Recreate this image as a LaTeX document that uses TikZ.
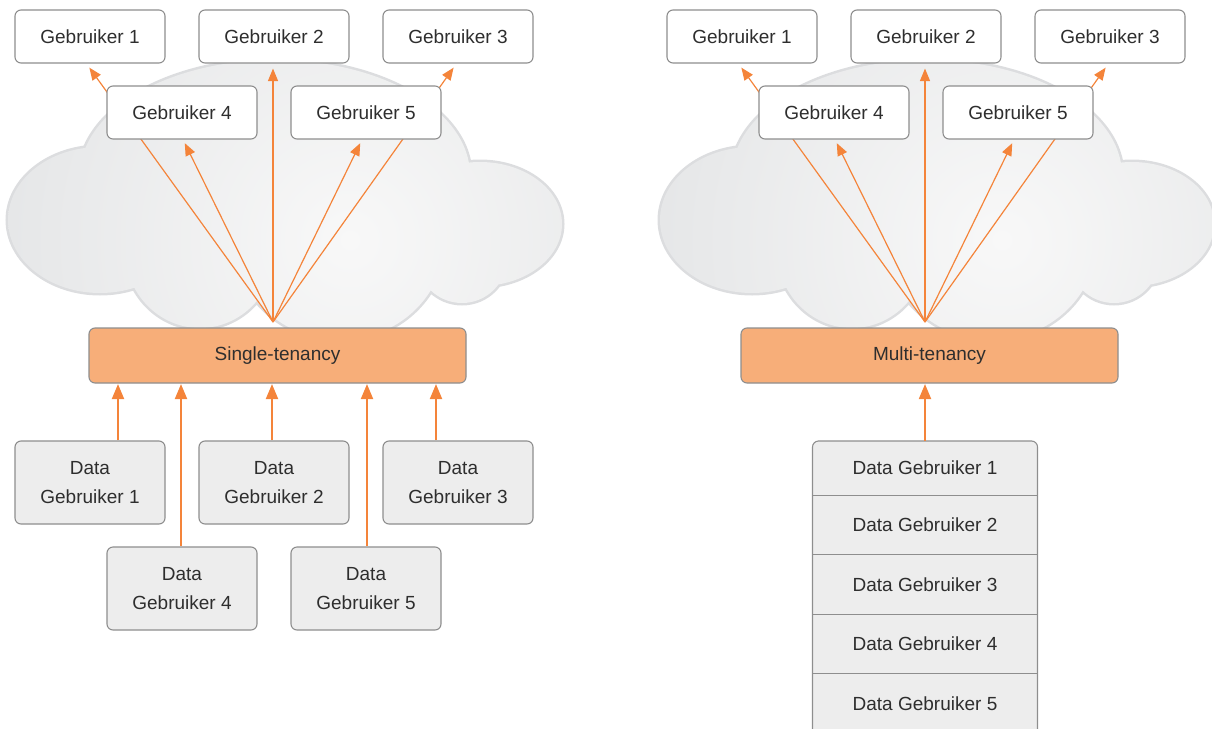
\documentclass[tikz,border=0pt]{standalone}
\usepackage{fontspec}
\setmainfont{Liberation Sans}
\usetikzlibrary{arrows.meta,calc,positioning}

\definecolor{flow}{HTML}{F4843A}
\definecolor{boxline}{HTML}{8E8E8E}
\definecolor{databg}{HTML}{EDEDED}
\definecolor{tenancy}{HTML}{F7AE79}
\definecolor{ink}{HTML}{2E2E2E}
\definecolor{cloudrim}{HTML}{DCDDDF}
\definecolor{cloudout}{HTML}{D8DADC}
\definecolor{cloudin}{HTML}{F8F8F8}

% lobes of one cloud, in pixel-like units
\newcommand{\cloudlobes}{%
  (100,220) ellipse [x radius=92pt, y radius=73pt]
  (275,175) ellipse [x radius=195pt, y radius=115pt]
  (200,250) ellipse [x radius=75pt, y radius=78pt]
  (340,240) ellipse [x radius=105pt, y radius=100pt]
  (462,258) circle [radius=45pt]
  (480,224) ellipse [x radius=82pt, y radius=62pt]}

\newcommand{\drawcloud}{%
  \draw[cloudrim, line width=5pt] \cloudlobes;
  \begin{scope}
    \clip \cloudlobes;
    \shade[inner color=cloudin, outer color=cloudout] (350,240) circle [radius=600pt];
  \end{scope}}

\tikzset{
  userbox/.style={draw=boxline, line width=1.1pt, fill=white, rounded corners=6pt,
    minimum width=150pt, minimum height=53pt, inner sep=0pt, text=ink,
    font=\fontsize{19}{22}\selectfont},
  databox/.style={userbox, fill=databg, minimum height=83pt, align=center,
    font=\fontsize{19}{29}\selectfont},
  tenancybox/.style={userbox, fill=tenancy, minimum width=377pt, minimum height=55pt},
  rowbox/.style={minimum width=225pt, inner sep=0pt, text=ink,
    font=\fontsize{19}{22}\selectfont},
  fanline/.style={draw=flow, line width=1.2pt, -{Triangle[length=12.5pt,width=10pt]}},
  feedline/.style={draw=flow, line width=2pt, -{Triangle[length=15pt,width=12pt]}, shorten >=0.5pt},
}

\begin{document}
\begin{tikzpicture}[x=1pt,y=-1pt]
\useasboundingbox (0,0) rectangle (1212,728);

% clouds
\drawcloud
\begin{scope}[xshift=652pt]
  \drawcloud
\end{scope}

% fan origins
\coordinate (fanL) at (273,322);
\coordinate (fanR) at (925,322);

% ---------- single-tenancy side ----------
\node[userbox] (g1) at (90,36.5) {Gebruiker 1};
\node[userbox] (g2) at (274,36.5) {Gebruiker 2};
\node[userbox] (g3) at (458,36.5) {Gebruiker 3};

\draw[fanline, shorten >=5pt] (fanL) -- ([xshift=-3.6pt]g1.south);
\draw[fanline, shorten >=5pt] (fanL) -- ([xshift=-1.5pt]g3.south);

\node[userbox] (g4) at (182,112.5) {Gebruiker 4};
\node[userbox] (g5) at (366,112.5) {Gebruiker 5};

\draw[fanline, shorten >=4pt] (fanL) -- ([xshift=1pt]g4.south);
\draw[fanline, shorten >=5pt] (fanL) -- ([xshift=-1pt]g2.south);
\draw[fanline, shorten >=4pt] (fanL) -- ([xshift=-4pt]g5.south);

\node[tenancybox] (st) at (277.5,355.5) {Single-tenancy};

\node[databox] (d1) at (90,482.5) {Data\\Gebruiker 1};
\node[databox] (d2) at (274,482.5) {Data\\Gebruiker 2};
\node[databox] (d3) at (458,482.5) {Data\\Gebruiker 3};
\node[databox] (d4) at (182,588.5) {Data\\Gebruiker 4};
\node[databox] (d5) at (366,588.5) {Data\\Gebruiker 5};

\draw[feedline] ([xshift=28pt]d1.north) -- ([xshift=28pt]d1.north |- st.south);
\draw[feedline] ([xshift=-1pt]d4.north) -- ([xshift=-1pt]d4.north |- st.south);
\draw[feedline] ([xshift=-2pt]d2.north) -- ([xshift=-2pt]d2.north |- st.south);
\draw[feedline] ([xshift=1pt]d5.north) -- ([xshift=1pt]d5.north |- st.south);
\draw[feedline] ([xshift=-22pt]d3.north) -- ([xshift=-22pt]d3.north |- st.south);

% ---------- multi-tenancy side ----------
\node[userbox] (h1) at (742,36.5) {Gebruiker 1};
\node[userbox] (h2) at (926,36.5) {Gebruiker 2};
\node[userbox] (h3) at (1110,36.5) {Gebruiker 3};

\draw[fanline, shorten >=5pt] (fanR) -- ([xshift=-3.6pt]h1.south);
\draw[fanline, shorten >=5pt] (fanR) -- ([xshift=-1.5pt]h3.south);

\node[userbox] (h4) at (834,112.5) {Gebruiker 4};
\node[userbox] (h5) at (1018,112.5) {Gebruiker 5};

\draw[fanline, shorten >=4pt] (fanR) -- ([xshift=1pt]h4.south);
\draw[fanline, shorten >=5pt] (fanR) -- ([xshift=-1pt]h2.south);
\draw[fanline, shorten >=4pt] (fanR) -- ([xshift=-4pt]h5.south);

\node[tenancybox] (mt) at (929.5,355.5) {Multi-tenancy};

% shared data store: one outline, one row per user
\coordinate (stack) at (925,441);
\draw[draw=boxline, line width=1.1pt, fill=databg, rounded corners=6pt]
  ($(stack)+(-112.5,0)$) rectangle ($(stack)+(112.5,310)$);

\node[rowbox, minimum height=54pt, below=0pt of stack] (s1) {Data Gebruiker 1};
\node[rowbox, minimum height=59pt, below=0pt of s1] (s2) {Data Gebruiker 2};
\node[rowbox, minimum height=59pt, below=0pt of s2] (s3) {Data Gebruiker 3};
\node[rowbox, minimum height=59pt, below=0pt of s3] (s4) {Data Gebruiker 4};
\node[rowbox, minimum height=59pt, below=0pt of s4] (s5) {Data Gebruiker 5};

\foreach \r in {s1,s2,s3,s4}
  \draw[boxline, line width=1.1pt] (\r.south west) -- (\r.south east);

\draw[feedline] (s1.north) -- (s1.north |- mt.south);
\end{tikzpicture}
\end{document}
